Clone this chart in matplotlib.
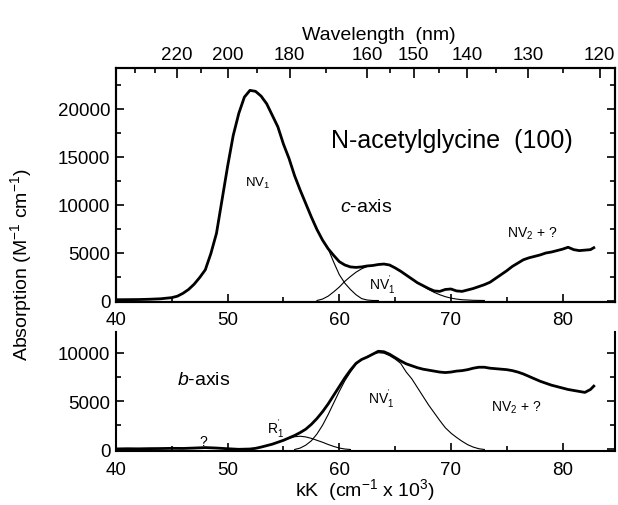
import numpy as np
import matplotlib
matplotlib.use('Agg')
import matplotlib.pyplot as plt
from matplotlib.ticker import MultipleLocator

plt.rcParams['font.family'] = ['Liberation Sans', 'DejaVu Sans']
plt.rcParams['mathtext.fontset'] = 'custom'
plt.rcParams['mathtext.rm'] = 'Liberation Sans'
plt.rcParams['mathtext.it'] = 'Liberation Sans:italic'

# c-axis (pannello superiore): spettro totale
c_x = [40, 41, 42, 43, 44, 45, 45.5, 46, 46.5, 47, 47.5, 48, 48.5, 49, 49.5, 50, 50.5, 51, 51.5, 52,
       52.5, 53, 53.5, 54, 54.5, 55, 55.5, 56, 56.5, 57, 57.5, 58, 58.5, 59, 59.5, 60, 60.5, 61, 61.5, 62,
       62.5, 63, 63.5, 64, 64.5, 65, 65.5, 66, 66.5, 67, 67.5, 68, 68.5, 69, 69.5, 70, 70.5, 71, 71.5, 72,
       72.5, 73, 73.5, 74, 74.5, 75, 75.5, 76, 76.5, 77, 77.5, 78, 78.5, 79, 79.5, 80, 80.5, 81, 81.5, 82,
       82.5, 82.8]
c_tot = [80, 90, 100, 130, 180, 300, 450, 750, 1150, 1700, 2400, 3200, 4900, 7000, 10500, 14000, 17200, 19500, 21200, 21900,
         21800, 21300, 20500, 19300, 18100, 16300, 14800, 13000, 11500, 10100, 8700, 7400, 6300, 5400, 4700, 4050, 3700, 3500, 3450, 3500,
         3600, 3650, 3750, 3800, 3700, 3400, 3050, 2650, 2250, 1850, 1550, 1250, 1000, 950, 1150, 1200, 1000, 950, 1100, 1250,
         1450, 1650, 1900, 2300, 2700, 3100, 3550, 3900, 4250, 4450, 4600, 4750, 4950, 5050, 5200, 5350, 5550, 5300, 5200, 5250,
         5300, 5500]

# componente NV1 (coda a destra)
nv1_x = [58, 58.5, 59, 59.5, 60, 60.5, 61, 61.5, 62, 62.5, 63, 63.5]
nv1_y = [7400, 6300, 5400, 4000, 2700, 1800, 1150, 600, 200, 50, 0, 0]

# componente NV1' (c-axis)
nv1p_c_x = [58, 58.5, 59, 59.5, 60, 60.5, 61, 61.5, 62, 62.5, 63, 63.5, 64, 64.5, 65, 65.5, 66, 66.5, 67,
            67.5, 68, 68.5, 69, 69.5, 70, 70.5, 71, 72, 73]
nv1p_c_y = [0, 150, 450, 900, 1400, 2000, 2500, 2950, 3300, 3550, 3650, 3750, 3800, 3700, 3400, 3050, 2650, 2250, 1850,
            1500, 1150, 850, 600, 400, 250, 150, 80, 20, 0]

# b-axis (pannello inferiore): spettro totale
b_x = [40, 41, 42, 43, 44, 45, 46, 47, 48, 49, 50, 51, 52, 52.5, 53, 53.5, 54, 54.5, 55, 55.5,
       56, 56.5, 57, 57.5, 58, 58.5, 59, 59.5, 60, 60.5, 61, 61.5, 62, 62.5, 63, 63.5, 64, 64.5, 65, 65.5,
       66, 66.5, 67, 67.5, 68, 68.5, 69, 69.5, 70, 70.5, 71, 71.5, 72, 72.5, 73, 73.5, 74, 74.5, 75, 75.5,
       76, 76.5, 77, 77.5, 78, 78.5, 79, 79.5, 80, 80.5, 81, 81.5, 82, 82.5, 82.8]
b_tot = [60, 80, 70, 90, 100, 120, 110, 150, 200, 150, 80, 20, 50, 120, 250, 400, 550, 750, 950, 1200,
         1450, 1750, 2100, 2600, 3200, 3900, 4700, 5600, 6500, 7400, 8200, 8900, 9300, 9550, 9850, 10150, 10100, 9850, 9500, 9150,
         8850, 8650, 8450, 8300, 8200, 8100, 8000, 7950, 8000, 8100, 8150, 8250, 8400, 8500, 8500, 8400, 8350, 8300, 8250, 8150,
         8000, 7800, 7550, 7300, 7050, 6850, 6650, 6500, 6350, 6200, 6100, 6000, 5900, 6200, 6550]

# componente R1'
r1_x = [53, 54, 55, 55.5, 56, 56.5, 57, 57.5, 58, 58.5, 59, 59.5, 60, 60.5, 61]
r1_y = [250, 550, 950, 1150, 1320, 1370, 1300, 1150, 950, 750, 520, 320, 150, 50, 0]

# componente NV1' (b-axis)
nv1p_b_x = [56, 56.5, 57, 57.5, 58, 58.5, 59, 59.5, 60, 60.5, 61, 61.5, 62, 62.5, 63, 63.5, 64, 64.5, 65, 65.5,
            66, 66.5, 67, 67.5, 68, 68.5, 69, 69.5, 70, 70.5, 71, 71.5, 72, 72.5, 73]
nv1p_b_y = [0, 150, 450, 900, 1600, 2500, 3600, 4800, 6000, 7100, 8000, 8800, 9300, 9600, 9850, 10000, 9950, 9700, 9350, 8900,
            8000, 7300, 6400, 5500, 4600, 3800, 3000, 2250, 1700, 1250, 850, 500, 250, 80, 0]

# asse superiore in lunghezza d'onda
nm_major = [220, 200, 180, 160, 150, 140, 130, 120]
nm_minor = [240, 230, 210, 190, 170, 155, 145, 135, 125]

W, H = 618, 506
fig = plt.figure(figsize=(W / 100, H / 100), dpi=100)
left, right = 116, 615
ax1 = fig.add_axes([left / W, 1 - 302.7 / H, (right - left) / W, (302.7 - 69.3) / H])
ax2 = fig.add_axes([left / W, 1 - 452 / H, (right - left) / W, (452 - 333) / H])

thick = 2.0
thin = 0.8
tick_fs = 13.5

ax1.plot(c_x, c_tot, color='black', lw=thick, zorder=3)
ax1.plot(nv1_x, nv1_y, color='black', lw=thin)
ax1.plot(nv1p_c_x, nv1p_c_y, color='black', lw=thin)

ax2.plot(b_x, b_tot, color='black', lw=thick, zorder=3)
ax2.plot(r1_x, r1_y, color='black', lw=thin)
ax2.plot(nv1p_b_x, nv1p_b_y, color='black', lw=thin)

for ax in (ax1, ax2):
    ax.set_xlim(40, 84.7)
    ax.xaxis.set_major_locator(MultipleLocator(10))
    ax.xaxis.set_minor_locator(MultipleLocator(5))
    ax.yaxis.set_major_locator(MultipleLocator(5000))
    ax.yaxis.set_minor_locator(MultipleLocator(2500))
    ax.tick_params(which='both', direction='in', right=True, labelsize=tick_fs, width=1.2)
    ax.tick_params(which='major', length=6, pad=4)
    ax.tick_params(which='minor', length=3.5)
    for s in ax.spines.values():
        s.set_linewidth(1.5)

ax1.set_ylim(-125, 24200)
ax2.set_ylim(-155, 12140)
ax1.tick_params(axis='x', which='both', top=False, pad=7)
ax2.tick_params(axis='x', which='both', top=False, pad=7)
ax2.spines['top'].set_visible(False)

# asse superiore: nm
axt = ax1.twiny()
axt.set_xlim(ax1.get_xlim())
axt.set_xticks([1e4 / n for n in nm_major])
axt.set_xticklabels([str(n) for n in nm_major])
axt.set_xticks([1e4 / n for n in nm_minor], minor=True)
axt.tick_params(which='both', direction='in', labelsize=tick_fs, width=1.2)
axt.tick_params(which='major', length=7, pad=4)
axt.tick_params(which='minor', length=3.5)
for s in axt.spines.values():
    s.set_linewidth(1.5)

# testi
ax1.text(59.3, 16700, 'N-acetylglycine  (100)', fontsize=18, va='center')
ax1.text(51.6, 12300, 'NV$_1$', fontsize=9.5, va='center')
ax1.text(60.1, 9800, '$\\it{c}$-axis', fontsize=14, va='center')
ax1.text(62.7, 1700, "NV$_1^{'}$", fontsize=10, va='center')
ax1.text(75.0, 7070, 'NV$_2$ + ?', fontsize=10, va='center')

ax2.text(45.5, 7280, '$\\it{b}$-axis', fontsize=14, va='center')
ax2.text(47.8, 900, '?', fontsize=10, va='center', ha='center')
ax2.text(53.5, 2300, "R$_1^{'}$", fontsize=10, va='center')
ax2.text(62.6, 5400, "NV$_1^{'}$", fontsize=10, va='center')
ax2.text(73.6, 4400, 'NV$_2$ + ?', fontsize=10, va='center')

fig.text(379 / W, 1 - 36 / H, 'Wavelength  (nm)', fontsize=14, ha='center', va='center')
fig.text(21 / W, 1 - 265 / H, 'Absorption (M$^{-1}$ cm$^{-1}$)', fontsize=14,
         rotation=90, ha='center', va='center')
ax2.set_xlabel('kK  (cm$^{-1}$ x 10$^{3}$)', fontsize=14, labelpad=-1)

fig.savefig('out.png', dpi=100)
